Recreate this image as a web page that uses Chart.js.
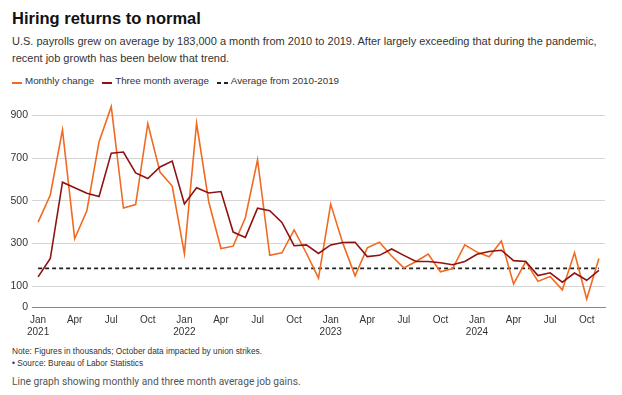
<!DOCTYPE html>
<html>
<head>
<meta charset="utf-8">
<script src="https://cdn.jsdelivr.net/npm/chart.js@4.4.1/dist/chart.umd.min.js"></script>
<style>
  html, body { margin:0; padding:0; background:#fff; }
  body { width:622px; height:395px; position:relative; overflow:hidden; font-family:'Liberation Sans', Arial, Helvetica, sans-serif; color:#222; }
  .abs { position:absolute; left:12px; white-space:nowrap; }
  #title { top:8px; font-size:16.5px; font-weight:bold; line-height:20px; color:#111; }
  #sub { top:33px; font-size:11px; line-height:17px; color:#333; }
  #legend { top:74px; font-size:9.8px; line-height:14px; color:#333; }
  #legend span.item { margin-right:8px; }
  #legend i { display:inline-block; width:10px; height:2px; margin-right:3px; vertical-align:0px; }
  #legend i.dash { width:11px; background:repeating-linear-gradient(to right, #222 0 4px, transparent 4px 7px); }
  #note { top:346px; font-size:8.3px; line-height:11.5px; color:#333; }
  #desc { top:375px; font-size:10.2px; line-height:14px; color:#555; font-family:Roboto, 'Noto Sans', sans-serif; }
  #wrap { position:absolute; left:0; top:88px; width:615px; height:255px; }
</style>
</head>
<body>
<div id="title" class="abs">Hiring returns to normal</div>
<div id="sub" class="abs">U.S. payrolls grew on average by 183,000 a month from 2010 to 2019. After largely exceeding that during the pandemic,<br>recent job growth has been below that trend.</div>
<div id="legend" class="abs"><span class="item"><i style="background:#f26a21"></i>Monthly change</span><span class="item"><i style="background:#8e1212"></i>Three month average</span><span class="item"><i class="dash"></i>Average from 2010-2019</span></div>
<div id="wrap"><canvas id="c"></canvas></div>
<div id="note" class="abs">Note: Figures in thousands; October data impacted by union strikes.<br>• Source: Bureau of Labor Statistics</div>
<div id="desc" class="abs">Line graph showing monthly and three month average job gains.</div>
<script>
const categories = [
  'Jan 2021','Feb 2021','Mar 2021','Apr 2021','May 2021','Jun 2021','Jul 2021','Aug 2021','Sep 2021','Oct 2021','Nov 2021','Dec 2021',
  'Jan 2022','Feb 2022','Mar 2022','Apr 2022','May 2022','Jun 2022','Jul 2022','Aug 2022','Sep 2022','Oct 2022','Nov 2022','Dec 2022',
  'Jan 2023','Feb 2023','Mar 2023','Apr 2023','May 2023','Jun 2023','Jul 2023','Aug 2023','Sep 2023','Oct 2023','Nov 2023','Dec 2023',
  'Jan 2024','Feb 2024','Mar 2024','Apr 2024','May 2024','Jun 2024','Jul 2024','Aug 2024','Sep 2024','Oct 2024','Nov 2024'
];
const monthlyChange = [
  400,527,832,322,453,777,941,466,482,862,634,569,
  252,863,494,276,287,420,692,244,256,363,255,137,
  484,300,148,279,305,241,185,215,250,167,182,293,
  259,237,311,110,215,122,145,82,256,39,229
];
const threeMonthAverage = [
  143,229,587,561,535,520,723,728,630,604,658,686,
  485,561,536,543,353,328,465,453,398,289,293,253,
  293,304,305,238,244,274,244,215,215,209,200,215,
  249,262,268,219,215,149,162,118,161,127,173
];
const average2010to2019 = categories.map(() => 183);
const yTickValues = [0, 100, 300, 500, 700, 900];
const quarterMonths = ['Jan', 'Apr', 'Jul', 'Oct'];

const FONT = "'Liberation Sans', Arial, Helvetica, sans-serif";

new Chart(document.getElementById('c'), {
  type: 'line',
  data: {
    labels: categories,
    datasets: [
      { label: 'Three month average', data: threeMonthAverage, borderColor: '#8e1212', borderWidth: 1.6, pointRadius: 0, tension: 0, fill: false },
      { label: 'Monthly change', data: monthlyChange, borderColor: '#f26a21', borderWidth: 1.6, pointRadius: 0, tension: 0, fill: false },
      { label: 'Average from 2010-2019', data: average2010to2019, borderColor: '#222', borderWidth: 1.8, borderDash: [4, 3], pointRadius: 0, tension: 0, fill: false }
    ]
  },
  options: {
    responsive: true,
    maintainAspectRatio: false,
    animation: false,
    events: [],
    layout: { padding: { top: 0, right: 10, bottom: 0, left: 0 } },
    plugins: { legend: { display: false }, tooltip: { enabled: false } },
    scales: {
      x: {
        type: 'category',
        offset: true,
        grid: { display: false, drawTicks: false },
        border: { display: true, color: '#888', width: 1 },
        ticks: {
          autoSkip: false, maxRotation: 0, padding: 7,
          color: '#333', font: { family: FONT, size: 10 },
          callback: function(value) {
            const parts = categories[value].split(' ');
            if (!quarterMonths.includes(parts[0])) return null;
            return parts[0] === 'Jan' ? [parts[0], parts[1]] : parts[0];
          }
        },
        afterFit: function(scale) { scale.height = 35.6; }
      },
      y: {
        min: 0, max: 980,
        afterBuildTicks: function(scale) { scale.ticks = yTickValues.map(v => ({ value: v })); },
        afterFit: function(scale) { scale.width = 32; },
        grid: {
          drawTicks: false, tickLength: 0,
          color: ctx => ctx.tick && ctx.tick.value === 0 ? '#888' : '#d6d6d6',
          lineWidth: 1
        },
        border: { display: false },
        ticks: { padding: 4, color: '#333', font: { family: FONT, size: 10.5 } }
      }
    }
  }
});
</script>
</body>
</html>
